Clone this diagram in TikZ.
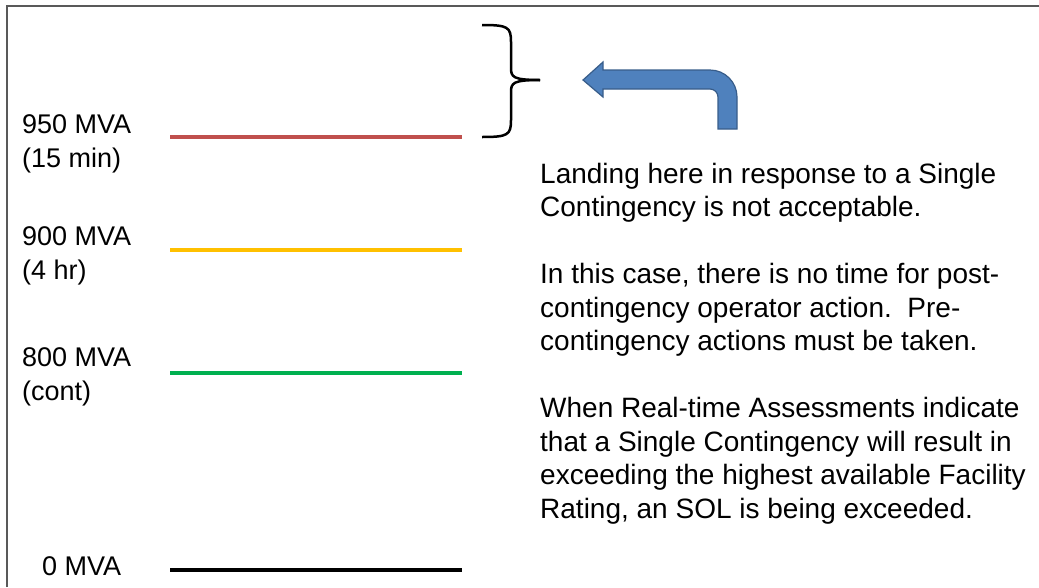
\documentclass[tikz,border=0pt]{standalone}
\usepackage{fontspec}
\setmainfont{Liberation Sans}
\usepackage{tikz}
\usetikzlibrary{positioning}

\definecolor{ratered}{RGB}{192,80,77}
\definecolor{rateyellow}{RGB}{255,192,0}
\definecolor{rategreen}{RGB}{0,176,80}
\definecolor{arrowblue}{RGB}{79,129,189}
\definecolor{arrowedge}{RGB}{56,93,138}

\begin{document}
\begin{tikzpicture}[x=1pt,y=-1pt,
  level line/.style={line width=4pt},
  rating/.style={inner sep=0pt,align=left,anchor=base west,font=\fontsize{27}{33.5}\selectfont},
  note/.style={inner sep=0pt,align=left,anchor=base west,font=\fontsize{28}{33.5}\selectfont}]
  \useasboundingbox (0,0) rectangle (1039,587);
  \draw[black!65,line width=1.5pt] (7,587) -- (7,6) -- (1039,6);

  \coordinate (L950a) at (170,137);
  \coordinate (L950b) at (462,137);
  \coordinate (L900a) at (170,250);
  \coordinate (L900b) at (462,250);
  \coordinate (L800a) at (170,373);
  \coordinate (L800b) at (462,373);
  \coordinate (L0a) at (170,570);
  \coordinate (L0b) at (462,570);
  \draw[level line,ratered] (L950a) -- (L950b);
  \draw[level line,rateyellow] (L900a) -- (L900b);
  \draw[level line,rategreen] (L800a) -- (L800b);
  \draw[level line,black] (L0a) -- (L0b);

  \node[rating] (T950) at (22,167) {950 MVA\\(15 min)};
  \node[rating] (T900) at (22,279) {900 MVA\\(4 hr)};
  \node[rating] (T800) at (22,400) {800 MVA\\(cont)};
  \node[rating] (T0) at (42,575) {0 MVA};

  \draw[line width=2.5pt] (482,25) .. controls (508,25) and (511,27) .. (511,42) -- (511,68)
    .. controls (511,77) and (513,80) .. (540,80);
  \draw[line width=2.5pt] (540,80) .. controls (513,80) and (511,83) .. (511,92) -- (511,120)
    .. controls (511,135) and (508,137) .. (482,137);

  \draw[arrowedge,fill=arrowblue,line width=1.2pt] (583,80) -- (603,62) -- (603,70) -- (710,70)
    .. controls (724.9,70) and (737,82.1) .. (737,97) -- (737,129) -- (718,129) -- (718,97)
    .. controls (718,92.6) and (714.4,89) .. (710,89) -- (603,89) -- (603,97) -- cycle;

  \node[note] (N) at (540,518) {Landing here in response to a Single\\
    Contingency is not acceptable.\\[33.5pt]
    In this case, there is no time for post-\\
    contingency operator action.\ \ Pre-\\
    contingency actions must be taken.\\[33.5pt]
    When Real-time Assessments indicate\\
    that a Single Contingency will result in\\
    exceeding the highest available Facility\\
    Rating, an SOL is being exceeded.};
\end{tikzpicture}
\end{document}
